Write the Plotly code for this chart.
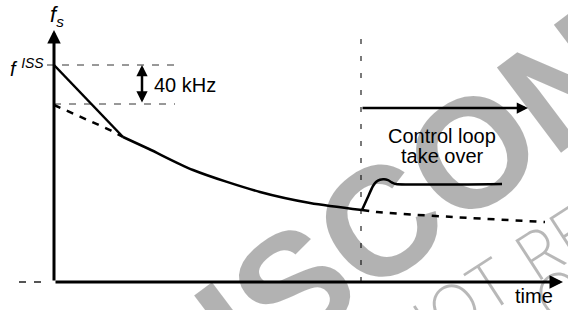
import plotly.graph_objects as go

# ---- data (time in arbitrary units, frequency in kHz relative to f = 0) ----
t_ramp = [0, 69]                      # soft-start linear ramp from f_ISS
f_ramp = [217, 145]
t_decay = [69, 95, 139, 206, 256, 308]  # natural decay of f_s
f_decay = [145, 133, 112, 90, 79, 72]
t_open = [0, 30, 56, 69]               # dashed curve starting 40 kHz lower
f_open = [177, 164, 152, 145]
t_tail = [308, 323, 399, 491]          # dashed continuation after take over
f_tail = [72, 70, 65, 60]
t_loop = [308, 313, 319, 322, 326, 330, 334, 338, 342, 448]  # control loop
f_loop = [72, 83, 96, 100, 102.3, 102.7, 101.8, 99.5, 98, 98]

f_iss = 217          # f ISS level
f_low = 178          # f ISS - 40 kHz
t_ref_end = 121      # end of dashed reference lines
t_takeover = 307     # control loop take over instant
t_axis_end = 509
f_axis_top = 252
t_origin_dash = [-35, -12]

FONT = "Liberation Sans, Arial, Helvetica, sans-serif"
BLACK = "#000000"

fig = go.Figure()

# dashed reference levels
fig.add_trace(go.Scatter(x=[-7, t_ref_end], y=[f_iss, f_iss], mode="lines",
                         line=dict(color="#333", width=1, dash="7px,8px")))
fig.add_trace(go.Scatter(x=[0, t_ref_end], y=[f_low, f_low], mode="lines",
                         line=dict(color="#333", width=1, dash="7px,8px")))
fig.add_trace(go.Scatter(x=t_origin_dash, y=[0, 0], mode="lines",
                         line=dict(color="#555", width=2, dash="7px,8px")))
# vertical take-over line
fig.add_trace(go.Scatter(x=[t_takeover, t_takeover], y=[0, f_axis_top], mode="lines",
                         line=dict(color="#222", width=1.2, dash="5px,12px")))

# curves
fig.add_trace(go.Scatter(x=t_open, y=f_open, mode="lines",
                         line=dict(color=BLACK, width=2.5, dash="7px,7px")))
fig.add_trace(go.Scatter(x=t_tail, y=f_tail, mode="lines",
                         line=dict(color=BLACK, width=2.5, dash="7px,7px", shape="spline")))
fig.add_trace(go.Scatter(x=t_ramp, y=f_ramp, mode="lines",
                         line=dict(color=BLACK, width=2.5)))
fig.add_trace(go.Scatter(x=t_decay, y=f_decay, mode="lines",
                         line=dict(color=BLACK, width=2.5, shape="spline", smoothing=0.8)))
fig.add_trace(go.Scatter(x=t_loop, y=f_loop, mode="lines",
                         line=dict(color=BLACK, width=2.5, shape="spline", smoothing=0.6)))

ann = []
# watermarks (semi-transparent black -> grey on white, black stays black)
ann.append(dict(xref="paper", yref="paper", x=600 / 568, y=1 - 57 / 310,
                text="<b>DISCONTINUED</b>", showarrow=False, textangle=-37,
                font=dict(family=FONT, size=155, color="rgba(0,0,0,0.30)"),
                xanchor="center", yanchor="middle"))
ann.append(dict(xref="paper", yref="paper", x=928 / 568, y=1 - 0 / 310,
                text="NOT RECOMMENDED FOR NEW DESIGNS", showarrow=False, textangle=-33,
                font=dict(family="Inter, Roboto, " + FONT, size=65, weight=200,
                          color="rgba(0,0,0,0.28)"),
                xanchor="center", yanchor="middle"))
ann.append(dict(xref="paper", yref="paper", x=581 / 568, y=1 - 283 / 310,
                text="CO", showarrow=False, textangle=-33,
                font=dict(family="Inter, Roboto, " + FONT, size=65, weight=200,
                          color="rgba(0,0,0,0.28)"),
                xanchor="center", yanchor="middle"))

# axes arrows
arrow_common = dict(xref="x", yref="y", axref="x", ayref="y", text="", showarrow=True,
                    arrowcolor=BLACK, standoff=0)
ann.append(dict(**arrow_common, x=0, y=f_axis_top, ax=0, ay=0,
                arrowhead=2, arrowwidth=3, arrowsize=0.9))
ann.append(dict(**arrow_common, x=t_axis_end, y=0, ax=0, ay=0,
                arrowhead=2, arrowwidth=3, arrowsize=0.9))
# 40 kHz double arrow
ann.append(dict(**arrow_common, x=88, y=f_iss, ax=88, ay=f_low, arrowside="end+start",
                arrowhead=2, startarrowhead=2, arrowwidth=2.5, arrowsize=0.9,
                startarrowsize=0.9))
# control loop arrow
ann.append(dict(**arrow_common, x=474, y=174, ax=t_takeover, ay=174,
                arrowhead=2, arrowwidth=2.5, arrowsize=0.9))

# labels
def lab(x, y, text, size=20, xanchor="center"):
    return dict(xref="x", yref="y", x=x, y=y, text=text, showarrow=False,
                font=dict(family=FONT, size=size, color=BLACK),
                xanchor=xanchor, yanchor="middle")

ann.append(lab(3, 266, "<i>f<sub>s</sub></i>", size=22))
ann.append(lab(-8, 215, "<i>f</i> <sup><i>ISS</i></sup>", size=20, xanchor="right"))
ann.append(lab(98, 197, "40 kHz", size=20, xanchor="left"))
ann.append(lab(387.5, 146.5, "Control loop", size=20))
ann.append(lab(388, 126.5, "take over", size=20))
ann.append(lab(480, -14, "time", size=20))

fig.update_layout(
    width=568, height=310,
    margin=dict(l=0, r=0, t=0, b=0),
    paper_bgcolor="white", plot_bgcolor="white",
    showlegend=False,
    xaxis=dict(range=[-54, 514], visible=False, fixedrange=True),
    yaxis=dict(range=[-28, 282], visible=False, fixedrange=True),
    annotations=ann,
)

fig.write_html(
    "out.html",
    config={"displayModeBar": False},
    post_script="document.body.style.margin='0';document.body.style.overflow='hidden';",
)
